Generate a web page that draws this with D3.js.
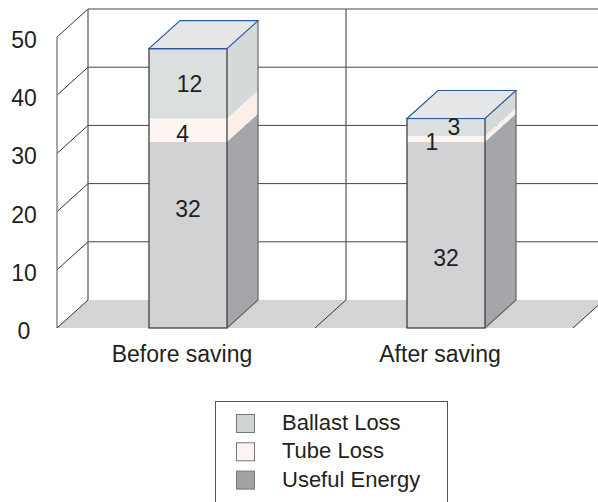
<!DOCTYPE html>
<html>
<head>
<meta charset="utf-8">
<script src="https://cdn.jsdelivr.net/npm/d3@7"></script>
<style>
  body { margin: 0; background: #fff; }
  svg text { font-family: "Liberation Sans", Arial, sans-serif; fill: #231f20; }
</style>
</head>
<body>
<svg id="chart"></svg>
<script>
// data
const categories = ['Before saving', 'After saving'];
const usefulEnergy = [32, 32];
const tubeLoss = [4, 1];
const ballastLoss = [12, 3];
const yTicks = [0, 10, 20, 30, 40, 50];
const legendNames = ['Ballast Loss', 'Tube Loss', 'Useful Energy'];

// where the hand-placed value labels sit (value units) and their sideways nudge (share of bar width)
const labelAt = { useful: [20.5, 12], tube: [33.3, 32], ballast: [42, 34.5] };
const labelNudge = { useful: [0, 0], tube: [-0.07, -0.18], ballast: [0.02, 0.1] };

const width = 598, height = 502;
const depthX = 31, depthY = -28;

const svg = d3.select('#chart')
    .attr('width', width)
    .attr('height', height);

const x = d3.scaleBand().domain(categories).range([57, 573]);
const y = d3.scaleLinear().domain([0, 50]).range([328, 37]);
const barW = 78;

const left = x.range()[0], right = x.range()[1];
const yTop = y(50), y0 = y(0);

// back wall gridlines
yTicks.filter(t => t > 0).forEach(t => {
    svg.append('line')
        .attr('x1', left + depthX).attr('x2', width + 10)
        .attr('y1', y(t) + depthY).attr('y2', y(t) + depthY)
        .attr('stroke', '#444').attr('stroke-width', 1);
    // side wall slant
    svg.append('line')
        .attr('x1', left).attr('y1', y(t))
        .attr('x2', left + depthX).attr('y2', y(t) + depthY)
        .attr('stroke', '#333').attr('stroke-width', 1);
});

// back wall verticals at the category edges
const edges = [left, x(categories[1]), right];
edges.forEach(e => {
    svg.append('line')
        .attr('x1', e + depthX).attr('x2', e + depthX)
        .attr('y1', y0 + depthY).attr('y2', yTop + depthY)
        .attr('stroke', '#555').attr('stroke-width', 1.2);
});

// front left edge of the side wall
svg.append('line')
    .attr('x1', left).attr('x2', left)
    .attr('y1', y0).attr('y2', yTop)
    .attr('stroke', '#888').attr('stroke-width', 1.5);

// floor
svg.append('polygon')
    .attr('points', [[left, y0], [right, y0], [right + depthX, y0 + depthY], [left + depthX, y0 + depthY]].join(' '))
    .attr('fill', '#d4d4d4');

edges.forEach(e => {
    svg.append('line')
        .attr('x1', e).attr('y1', y0)
        .attr('x2', e + depthX).attr('y2', y0 + depthY)
        .attr('stroke', '#333').attr('stroke-width', 1);
});

// y tick labels
svg.selectAll('.ytick')
    .data(yTicks)
    .join('text')
    .attr('class', 'ytick')
    .attr('x', 24)
    .attr('y', d => y(d) + 3)
    .attr('dy', '0.35em')
    .attr('text-anchor', 'middle')
    .attr('font-size', 23)
    .text(d => d);

// category labels
svg.selectAll('.xlab')
    .data(categories)
    .join('text')
    .attr('class', 'xlab')
    .attr('x', d => x(d) + x.bandwidth() / 2 - 4)
    .attr('y', 362)
    .attr('text-anchor', 'middle')
    .attr('font-size', 23)
    .text(d => d);

// stacked 3d bars
const frontColor = { useful: '#d1d2d4', tube: '#fdf5f2', ballast: '#dcdfdf' };
const sideColor = { useful: '#a5a6a9', tube: '#fbefea', ballast: '#d5d9d9' };

categories.forEach((c, i) => {
    const bx = x(c) + (x.bandwidth() - barW) / 2 + 2;
    const segs = [
        { key: 'useful', lo: 0, hi: usefulEnergy[i] },
        { key: 'tube', lo: usefulEnergy[i], hi: usefulEnergy[i] + tubeLoss[i] },
        { key: 'ballast', lo: usefulEnergy[i] + tubeLoss[i], hi: usefulEnergy[i] + tubeLoss[i] + ballastLoss[i] }
    ];
    const total = segs[2].hi;
    const g = svg.append('g');

    segs.forEach(s => {
        g.append('rect')
            .attr('x', bx).attr('y', y(s.hi))
            .attr('width', barW).attr('height', y(s.lo) - y(s.hi))
            .attr('fill', frontColor[s.key]);
        const xr = bx + barW;
        g.append('polygon')
            .attr('points', [[xr, y(s.lo)], [xr + depthX, y(s.lo) + depthY], [xr + depthX, y(s.hi) + depthY], [xr, y(s.hi)]].join(' '))
            .attr('fill', sideColor[s.key]);
    });

    // outlines
    g.append('rect')
        .attr('x', bx).attr('y', y(total))
        .attr('width', barW).attr('height', y0 - y(total))
        .attr('fill', 'none').attr('stroke', '#333').attr('stroke-width', 1.2);
    g.append('polyline')
        .attr('points', [[bx + barW, y0], [bx + barW + depthX, y0 + depthY], [bx + barW + depthX, y(total) + depthY]].join(' '))
        .attr('fill', 'none').attr('stroke', '#666').attr('stroke-width', 1.2);

    // top face
    g.append('polygon')
        .attr('points', [[bx, y(total)], [bx + barW, y(total)], [bx + barW + depthX, y(total) + depthY], [bx + depthX, y(total) + depthY]].join(' '))
        .attr('fill', '#e4e6e7')
        .attr('stroke', '#2d5a9a').attr('stroke-width', 1.2);

    // value labels
    const vals = { useful: usefulEnergy[i], tube: tubeLoss[i], ballast: ballastLoss[i] };
    ['useful', 'tube', 'ballast'].forEach(k => {
        g.append('text')
            .attr('x', bx + barW / 2 + labelNudge[k][i] * barW)
            .attr('y', y(labelAt[k][i]))
            .attr('dy', '0.35em')
            .attr('text-anchor', 'middle')
            .attr('font-size', 23)
            .text(vals[k]);
    });
});

// legend
const legendFill = ['#cfd3d3', '#fdf4f1', '#a2a3a7'];
const legend = svg.append('g');
legend.append('rect')
    .attr('x', 215.5).attr('y', 401.5)
    .attr('width', 232).attr('height', 130)
    .attr('fill', '#fff').attr('stroke', '#555').attr('stroke-width', 1);

legendNames.forEach((n, i) => {
    legend.append('rect')
        .attr('x', 236.5).attr('y', 414.5 + i * 28.3)
        .attr('width', 18).attr('height', 18)
        .attr('fill', legendFill[i])
        .attr('stroke', '#777').attr('stroke-width', 1);
    legend.append('text')
        .attr('x', 282)
        .attr('y', 430 + i * 28.3)
        .attr('font-size', 22)
        .text(n);
});
</script>
</body>
</html>
